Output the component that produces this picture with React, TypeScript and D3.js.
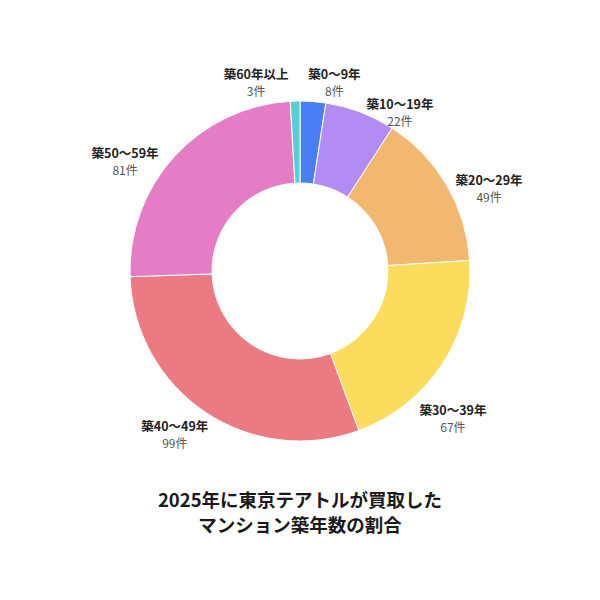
import React from 'react';
import * as d3 from 'd3';

const categories = ['築0〜9年', '築10〜19年', '築20〜29年', '築30〜39年', '築40〜49年', '築50〜59年', '築60年以上'];
const counts = [8, 22, 49, 67, 99, 81, 3];
const colors = ['#4a7ff3', '#b38cf3', '#f2b870', '#fcdc5c', '#ec7a82', '#e47cc6', '#55cfd2'];
const titleLines = ['2025年に東京テアトルが買取した', 'マンション築年数の割合'];

// label placement: angular shift (degrees) from the slice middle and distance from centre
const labelShift = [6, 11.5, 7, 11, 3.5, -10.5, -11.5];
const labelDist = [191, 187, 206, 213, 206, 206, 193];

const font = '"Noto Sans CJK JP", "Noto Sans", sans-serif';

const App: React.FC = () => {
  const ref = React.useRef<SVGSVGElement>(null);

  React.useEffect(() => {
    const svg = d3.select(ref.current);
    svg.selectAll('*').remove();

    const cx = 300;
    const cy = 271;
    const outer = 170;
    const inner = 88;

    const pie = d3.pie<number>().sort(null).value(d => d);
    const arcs = pie(counts);
    const arc = d3.arc<d3.PieArcDatum<number>>().innerRadius(inner).outerRadius(outer);

    const g = svg.append('g').attr('transform', `translate(${cx},${cy})`);

    g.selectAll('path')
      .data(arcs)
      .join('path')
      .attr('d', arc)
      .attr('fill', (_d, i) => colors[i])
      .attr('stroke', '#fff')
      .attr('stroke-width', 1);

    const labels = g.selectAll('g.label')
      .data(arcs)
      .join('g')
      .attr('class', 'label')
      .attr('transform', (d, i) => {
        const a = (d.startAngle + d.endAngle) / 2 + (labelShift[i] * Math.PI) / 180;
        const r = labelDist[i];
        return `translate(${r * Math.sin(a)},${-r * Math.cos(a)})`;
      });

    labels.append('text')
      .attr('text-anchor', 'middle')
      .attr('y', -4)
      .attr('font-family', font)
      .attr('font-size', 12.5)
      .attr('font-weight', 700)
      .attr('fill', '#222')
      .text((_d, i) => categories[i]);

    labels.append('text')
      .attr('text-anchor', 'middle')
      .attr('y', 13)
      .attr('font-family', font)
      .attr('font-size', 12)
      .attr('fill', '#555')
      .text((_d, i) => `${counts[i]}件`);

    svg.selectAll('text.title')
      .data(titleLines)
      .join('text')
      .attr('class', 'title')
      .attr('x', 300)
      .attr('y', (_d, i) => 507 + i * 25)
      .attr('text-anchor', 'middle')
      .attr('font-family', font)
      .attr('font-size', 18.5)
      .attr('font-weight', 700)
      .attr('fill', '#1a1a1a')
      .text(d => d);
  }, []);

  return (
    <svg
      ref={ref}
      width={600}
      height={600}
      style={{ position: 'absolute', left: 0, top: 0, background: '#fff' }}
    />
  );
};

export default App;
